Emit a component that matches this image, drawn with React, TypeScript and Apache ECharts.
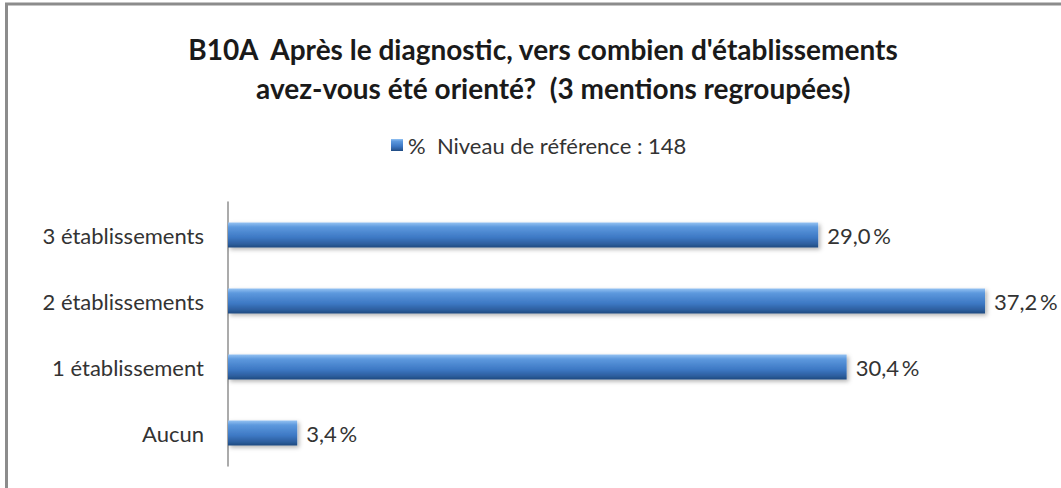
import React, { useEffect, useRef } from "react";
import * as echarts from "echarts";

const categories = ["Aucun", "1 établissement", "2 établissements", "3 établissements"];
const values = [3.4, 30.4, 37.2, 29.0];
const seriesName = "%  Niveau de référence : 148";
const titleText = "B10A  Après le diagnostic, vers combien d'établissements\n   avez-vous été orienté?  (3 mentions regroupées)";

export default function App() {
  const ref = useRef<HTMLDivElement>(null);
  useEffect(() => {
    if (!ref.current) return;
    const chart = echarts.init(ref.current, null, { renderer: "svg" });
    const font = "Lato, 'Open Sans', sans-serif";
    chart.setOption({
      animation: false,
      backgroundColor: "#ffffff",
      textStyle: { fontFamily: font },
      title: {
        text: titleText,
        left: 538,
        top: 24,
        textAlign: "center",
        textStyle: {
          fontFamily: font,
          fontSize: 28,
          fontWeight: "bold",
          color: "#1a1a1a",
          lineHeight: 39,
        },
      },
      legend: {
        top: 129,
        left: 386,
        itemWidth: 12,
        itemHeight: 12,
        itemGap: 6,
        textStyle: { fontFamily: font, fontSize: 22, color: "#333333" },
        data: [{ name: seriesName, icon: "rect" }],
      },
      graphic: [
        {
          type: "rect",
          shape: { x: 6.5, y: 4, width: 1200, height: 800 },
          style: { fill: "none", stroke: "#8c8c8c", lineWidth: 3 },
          silent: true,
        },
      ],
      grid: { left: 228, top: 202, height: 264, right: 19 },
      xAxis: {
        type: "value",
        min: 0,
        max: 40,
        show: false,
      },
      yAxis: {
        type: "category",
        data: categories,
        axisLine: { show: true, lineStyle: { color: "#8f8f8f", width: 1.5 } },
        axisTick: { show: false },
        axisLabel: {
          fontFamily: font,
          fontSize: 22,
          color: "#333333",
          margin: 24,
        },
      },
      series: [
        {
          name: seriesName,
          type: "bar",
          data: values,
          barWidth: 25,
          itemStyle: {
            color: new echarts.graphic.LinearGradient(0, 0, 0, 1, [
              { offset: 0, color: "#94c2f2" },
              { offset: 0.18, color: "#5d99de" },
              { offset: 0.6, color: "#3d78c4" },
              { offset: 0.85, color: "#2d5f9f" },
              { offset: 1, color: "#1f4a80" },
            ]),
            shadowColor: "rgba(0,0,0,0.3)",
            shadowBlur: 4,
            shadowOffsetX: 2,
            shadowOffsetY: 2,
          },
          label: {
            show: true,
            position: "right",
            distance: 9,
            fontFamily: font,
            fontSize: 22,
            color: "#333333",
            formatter: (p: any) => p.value.toFixed(1).replace(".", ",") + "\u2009%",
          },
        },
      ],
    });
    return () => chart.dispose();
  }, []);
  return (
    <div
      ref={ref}
      style={{ position: "fixed", left: 0, top: 0, width: 1061, height: 488 }}
    />
  );
}
